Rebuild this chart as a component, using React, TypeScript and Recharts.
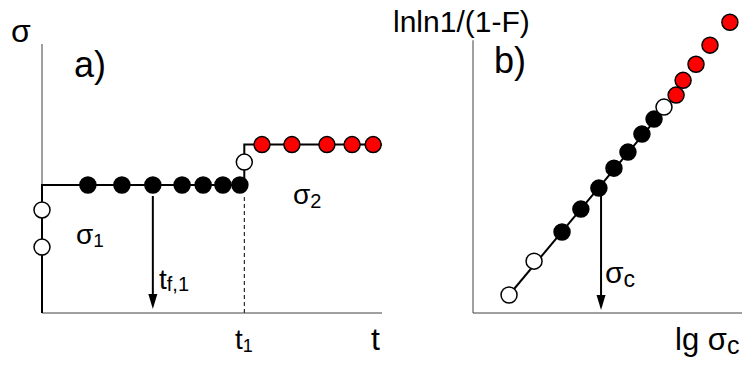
import { ScatterChart, Scatter, XAxis, YAxis, ReferenceLine } from 'recharts';

// panel a) – load history sigma(t), units 0..100 on both axes
const stepPath = [
  { x: 0, y: 0 }, { x: 0, y: 47.6 }, { x: 59.5, y: 47.6 },
  { x: 59.5, y: 62.6 }, { x: 100, y: 62.6 },
];
const openA = [{ x: 0, y: 38.3 }, { x: 0, y: 24.5 }, { x: 59.5, y: 56.1 }];
const blackA = [13.5, 23.5, 32.6, 41.2, 47.4, 53.2, 58.2].map(x => ({ x, y: 47.6 }));
const redA = [64.7, 73.5, 83.8, 91.2, 97.4].map(x => ({ x, y: 62.6 }));
const T1 = 59.5;
const TF1 = 32.6;

// panel b) – Weibull plot lnln1/(1-F) vs lg sigma
const openB = [{ x: 13.4, y: 6.6 }, { x: 22.7, y: 19.0 }, { x: 71.0, y: 75.5 }];
const blackB = [
  { x: 33.1, y: 29.7 }, { x: 40.1, y: 38.1 }, { x: 46.8, y: 45.8 }, { x: 52.4, y: 53.1 },
  { x: 57.6, y: 59.0 }, { x: 62.8, y: 65.6 }, { x: 67.3, y: 71.1 },
];
const redB = [
  { x: 75.5, y: 79.9 }, { x: 78.1, y: 85.3 }, { x: 82.9, y: 91.2 },
  { x: 88.1, y: 98.2 }, { x: 95.5, y: 106.6 },
];
const fitB = [{ x: 13.4, y: 6.6 }, { x: 75.5, y: 79.9 }];
const SIGMA_C = 47.6;

const AXIS = '#404040';
const FONT = '"Liberation Sans", Arial, sans-serif';

const dot = (fill: string) => (p: any) => (
  <circle cx={p.cx} cy={p.cy} r={8} fill={fill} stroke="#000" strokeWidth={1.5} />
);
const noDot = () => <g />;

const Arrow = (p: any) => {
  const { x1, y1, x2, y2 } = p;
  return (
    <g>
      <line x1={x1} y1={y1} x2={x2} y2={y2 - 12} stroke="#000" strokeWidth={2} />
      <polygon points={`${x2 - 4.5},${y2 - 15} ${x2 + 4.5},${y2 - 15} ${x2},${y2}`} fill="#000" />
    </g>
  );
};

function Lbl({ x, base, size, text, sub, subSize, drop = 3 }: {
  x: number; base: number; size: number; text: string; sub?: string; subSize?: number; drop?: number;
}) {
  return (
    <div style={{ position: 'absolute', left: x, top: base - 0.8465 * size, fontSize: size, lineHeight: 1, whiteSpace: 'nowrap', color: '#000' }}>
      {text}
      {sub && <span style={{ fontSize: subSize, position: 'relative', top: drop }}>{sub}</span>}
    </div>
  );
}

export default function App() {
  return (
    <div style={{ position: 'absolute', left: 0, top: 0, width: 746, height: 370, background: '#fff', fontFamily: FONT }}>
      <div style={{ position: 'absolute', left: 0, top: 0 }}>
        <ScatterChart width={390} height={370} margin={{ top: 44, right: 8, bottom: 55, left: 40 }}>
          <XAxis type="number" dataKey="x" domain={[0, 100]} height={2} tick={false} tickLine={false} axisLine={{ stroke: AXIS }} />
          <YAxis type="number" dataKey="y" domain={[0, 100]} width={2} tick={false} tickLine={false} axisLine={{ stroke: AXIS }} />
          <ReferenceLine segment={[{ x: T1, y: 0 }, { x: T1, y: 43.5 }]} stroke="#000" strokeDasharray="4 3" />
          <ReferenceLine segment={[{ x: TF1, y: 43.5 }, { x: TF1, y: 1.5 }]} shape={Arrow} />
          <Scatter data={stepPath} line={{ stroke: '#000', strokeWidth: 2 }} lineType="joint" shape={noDot} isAnimationActive={false} />
          <Scatter data={blackA} shape={dot('#000')} isAnimationActive={false} />
          <Scatter data={openA} shape={dot('#fff')} isAnimationActive={false} />
          <Scatter data={redA} shape={dot('#ff0000')} isAnimationActive={false} />
        </ScatterChart>
      </div>
      <div style={{ position: 'absolute', left: 390, top: 0 }}>
        <ScatterChart width={356} height={370} margin={{ top: 13, right: 4, bottom: 55, left: 81 }}>
          <XAxis type="number" dataKey="x" domain={[0, 100]} height={2} tick={false} tickLine={false} axisLine={{ stroke: AXIS }} />
          <YAxis type="number" dataKey="y" domain={[0, 110]} width={2} tick={false} tickLine={false} axisLine={false} />
          <ReferenceLine segment={[{ x: 0, y: 0 }, { x: 0, y: 100 }]} stroke={AXIS} />
          <ReferenceLine segment={[{ x: SIGMA_C, y: 43.3 }, { x: SIGMA_C, y: 1.1 }]} shape={Arrow} />
          <Scatter data={fitB} line={{ stroke: '#000', strokeWidth: 2 }} lineType="joint" shape={noDot} isAnimationActive={false} />
          <Scatter data={blackB} shape={dot('#000')} isAnimationActive={false} />
          <Scatter data={openB} shape={dot('#fff')} isAnimationActive={false} />
          <Scatter data={redB} shape={dot('#ff0000')} isAnimationActive={false} />
        </ScatterChart>
      </div>

      <Lbl x={11} base={42} size={32} text="σ" />
      <Lbl x={74} base={77} size={36} text="a)" />
      <Lbl x={76} base={245} size={28} text="σ" sub="1" subSize={19} drop={3} />
      <Lbl x={159} base={290} size={28} text="t" sub="f,1" subSize={20} drop={2} />
      <Lbl x={293} base={205} size={28} text="σ" sub="2" subSize={20} drop={4} />
      <Lbl x={235} base={350} size={28} text="t" sub="1" subSize={18} drop={3} />
      <Lbl x={371} base={350} size={32} text="t" />

      <Lbl x={393} base={32} size={30} text="lnln1/(1-F)" />
      <Lbl x={494} base={73} size={36} text="b)" />
      <Lbl x={605} base={283} size={30} text="σ" sub="c" subSize={23} drop={4} />
      <Lbl x={675} base={350} size={31} text="lg σ" sub="c" subSize={25} drop={4} />
    </div>
  );
}
